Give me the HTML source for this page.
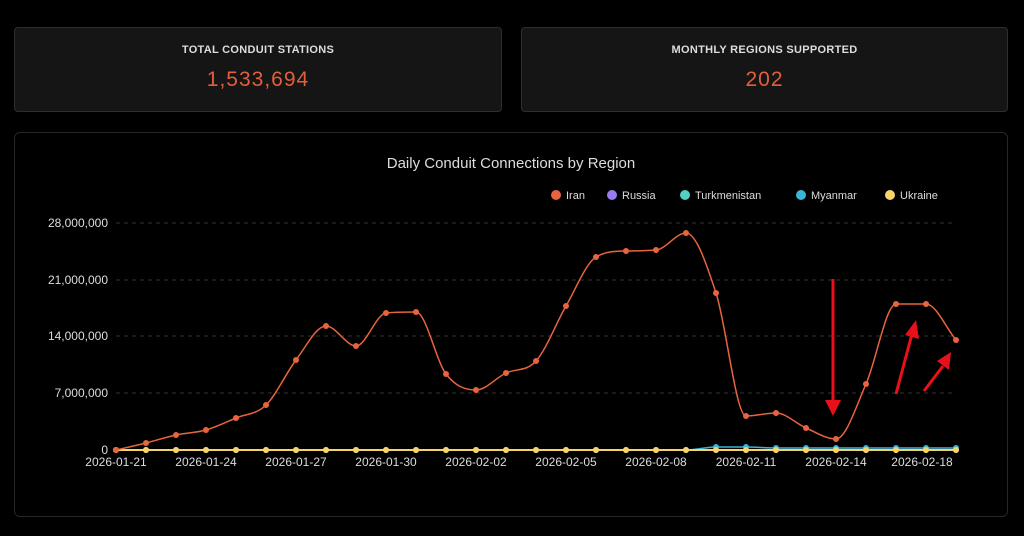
<!DOCTYPE html>
<html><head><meta charset="utf-8"><style>
body{margin:0;width:1024px;height:536px;background:#000;font-family:"Liberation Sans","DejaVu Sans",sans-serif;overflow:hidden;position:relative}
.card{position:absolute;top:27px;height:83px;background:#151515;border:1px solid #2e2e2e;border-radius:4px;text-align:center}
.card .t{color:#ddd;font-size:11px;font-weight:bold;letter-spacing:.3px;margin-top:16px}
.card .v{color:#e0603a;font-size:21px;margin-top:12px;letter-spacing:1px}
.panel{position:absolute;left:14px;top:132px;width:992px;height:383px;border:1px solid #262626;border-radius:6px;background:#000}
</style></head><body>
<div class="card" style="left:14px;width:486px"><div class="t">TOTAL CONDUIT STATIONS</div><div class="v">1,533,694</div></div>
<div class="card" style="left:521px;width:485px"><div class="t">MONTHLY REGIONS SUPPORTED</div><div class="v">202</div></div>
<div class="panel"></div>
<svg id="s" width="1024" height="536" style="position:absolute;left:0;top:0" font-family="Liberation Sans, DejaVu Sans, sans-serif">
<text x="511" y="168" fill="#ddd" font-size="15" text-anchor="middle">Daily Conduit Connections by Region</text>
<g font-size="11" fill="#ddd">
<circle cx="556" cy="195" r="5" fill="#e8643f"/><text x="566" y="199">Iran</text>
<circle cx="612" cy="195" r="5" fill="#9b7cf0"/><text x="622" y="199">Russia</text>
<circle cx="685" cy="195" r="5" fill="#4fd1c5"/><text x="695" y="199">Turkmenistan</text>
<circle cx="801" cy="195" r="5" fill="#3bb5d6"/><text x="811" y="199">Myanmar</text>
<circle cx="890" cy="195" r="5" fill="#f5d56a"/><text x="900" y="199">Ukraine</text>
</g>
<g stroke="#333" stroke-dasharray="4,4">
<line x1="116" x2="956" y1="223" y2="223"/><line x1="116" x2="956" y1="280" y2="280"/><line x1="116" x2="956" y1="336" y2="336"/><line x1="116" x2="956" y1="393" y2="393"/>
</g>
<g font-size="12" fill="#ddd" text-anchor="end">
<text x="108" y="227">28,000,000</text><text x="108" y="284">21,000,000</text><text x="108" y="340">14,000,000</text><text x="108" y="397">7,000,000</text><text x="108" y="454">0</text>
</g>
<g font-size="12" fill="#ddd" text-anchor="middle">
<text x="116" y="466">2026-01-21</text><text x="206" y="466">2026-01-24</text><text x="296" y="466">2026-01-27</text><text x="386" y="466">2026-01-30</text><text x="476" y="466">2026-02-02</text><text x="566" y="466">2026-02-05</text><text x="656" y="466">2026-02-08</text><text x="746" y="466">2026-02-11</text><text x="836" y="466">2026-02-14</text><text x="922" y="466">2026-02-18</text>
</g>
<g id="g"></g>
<g fill="#e8101a" stroke="#e8101a" stroke-width="3">
<line x1="833" y1="279" x2="833" y2="402"/><polygon points="825,400 841,400 833,416" stroke="none"/>
<line x1="896" y1="394" x2="912" y2="334"/><polygon points="905,335 919,339 916,320" stroke="none"/>
<line x1="924" y1="391" x2="943" y2="366"/><polygon points="937,361 949,370 951,352" stroke="none"/>
</g>
</svg>
<script>
var ys=[450,443,435,430,418,405,360,326,346,313,312,374,390,373,361,306,257,251,250,233,293,416,413,428,439,384,304,304,340];
function path(pts){var n=pts.length,h=30,dl=[],m=[];for(var i=0;i<n-1;i++)dl.push((pts[i+1][1]-pts[i][1])/h);
m[0]=dl[0];m[n-1]=dl[n-2];for(i=1;i<n-1;i++){m[i]=(dl[i-1]*dl[i]<=0)?0:(dl[i-1]+dl[i])/2;}
for(i=0;i<n-1;i++){if(dl[i]==0){m[i]=0;m[i+1]=0;continue;}var a=m[i]/dl[i],b=m[i+1]/dl[i],s=a*a+b*b;if(s>9){var t=3/Math.sqrt(s);m[i]=t*a*dl[i];m[i+1]=t*b*dl[i];}}
var d="M"+pts[0][0]+","+pts[0][1];for(i=0;i<n-1;i++){var p1=pts[i],p2=pts[i+1];d+=" C"+(p1[0]+h/3)+","+(p1[1]+m[i]*h/3)+" "+(p2[0]-h/3)+","+(p2[1]-m[i+1]*h/3)+" "+p2[0]+","+p2[1];}return d;}
var g=document.getElementById("g"),h="";
function series(vals,c,w){var pts=vals.map(function(y,i){return[116+30*i,y]});h+='<path d="'+path(pts)+'" fill="none" stroke="'+c+'" stroke-width="'+w+'"/>';pts.forEach(function(p){h+='<circle cx="'+p[0]+'" cy="'+p[1]+'" r="3" fill="'+c+'"/>'});}
var my=ys.map(function(y,i){return i>=20?(i==20||i==21?447:448):450});
series(my,"#3bb5d6",1.5);
series(ys.map(function(){return 450}),"#9b7cf0",1.5);
series(ys.map(function(){return 450}),"#f5d56a",2);
series(ys,"#e8643f",1.5);
g.innerHTML=h;
</script>
</body></html>
